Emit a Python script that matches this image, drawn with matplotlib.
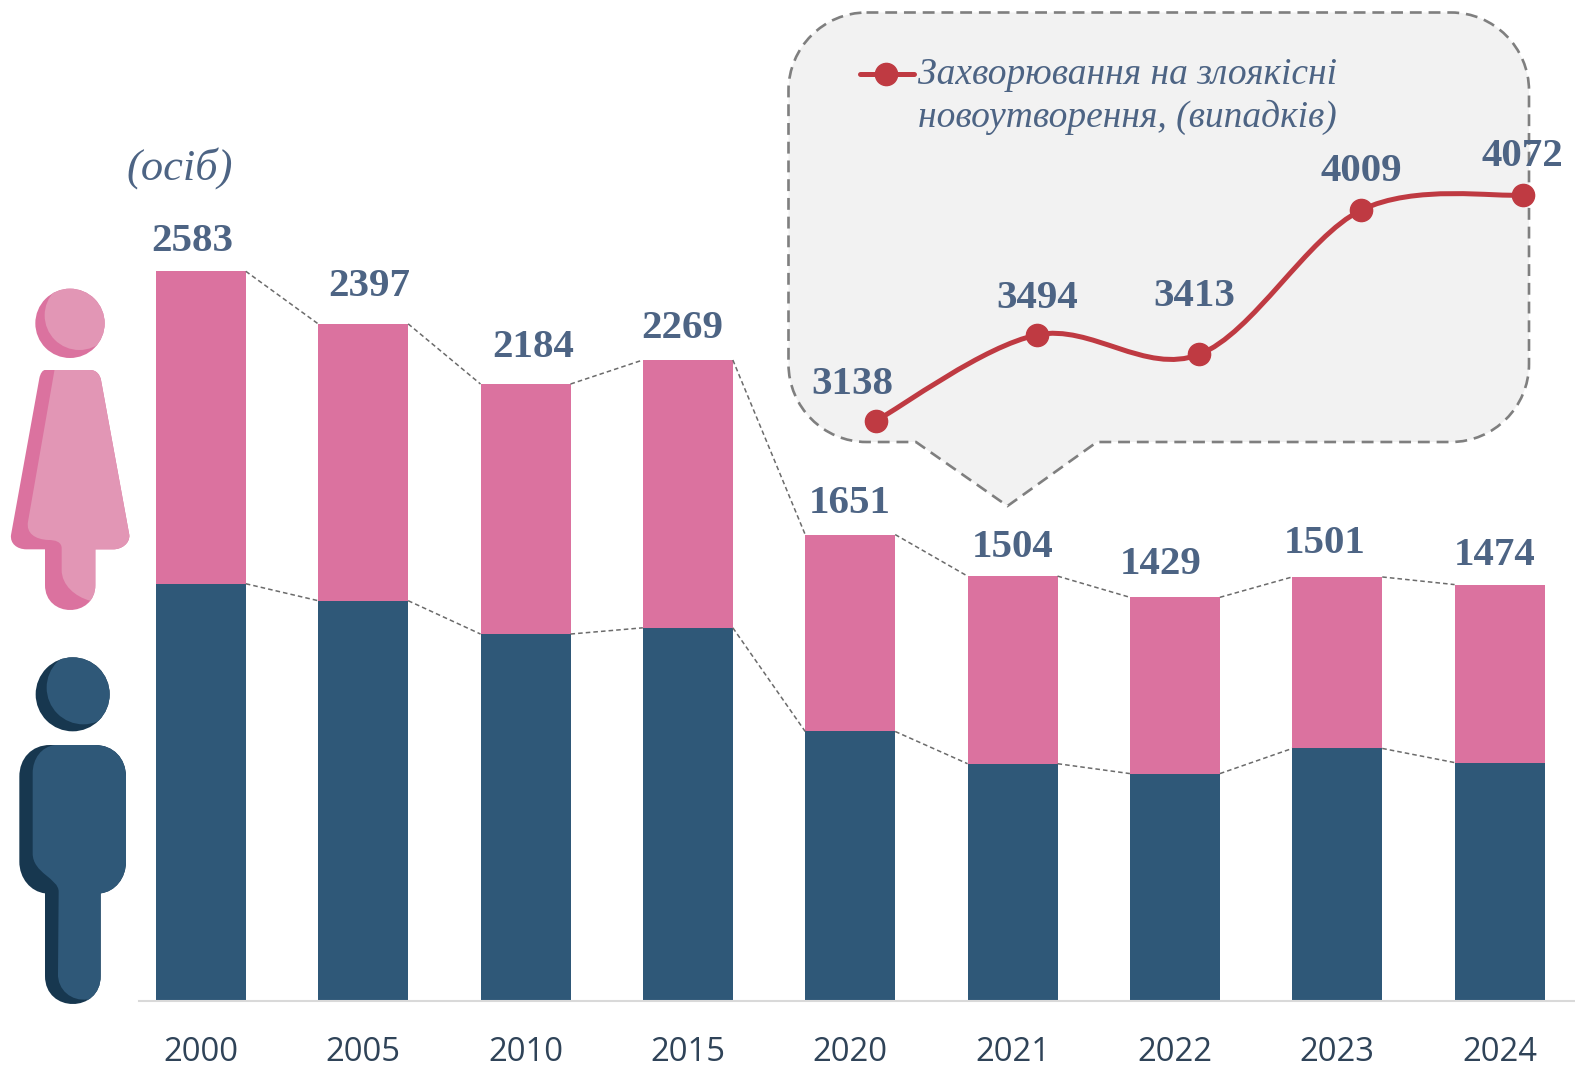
import matplotlib
matplotlib.use("Agg")
import matplotlib.pyplot as plt
import numpy as np
from matplotlib.patches import Circle, PathPatch
from matplotlib.path import Path

years = ["2000", "2005", "2010", "2015", "2020", "2021", "2022", "2023", "2024"]
totals = [2583, 2397, 2184, 2269, 1651, 1504, 1429, 1501, 1474]
men = [1477, 1417, 1299, 1321, 954, 840, 805, 894, 844]
women = [t - m for t, m in zip(totals, men)]

cancer_years = ["2020", "2021", "2022", "2023", "2024"]
cancer_cases = [3138, 3494, 3413, 4009, 4072]

PINK = "#db729f"
PINK_LIGHT = "#e296b5"
BLUE = "#2f5878"
BLUE_DARK = "#17374f"
TEXT = "#4d6484"
RED = "#bf3a42"
W, H = 1575, 1066
SERIF = "Liberation Serif"
BASE = 1001

fig = plt.figure(figsize=(W / 100, H / 100), dpi=100, facecolor="white")

# bars: axes span from the axis line start to the right edge
ax = fig.add_axes([139 / W, (H - BASE) / H, (W - 139) / W, BASE / H], zorder=1)
x = np.arange(len(years))
step, first = 162.35, 200.8
bar_w = 90 / step
ax.bar(x, men, bar_w, color=BLUE)
ax.bar(x, women, bar_w, bottom=men, color=PINK)
ax.set_xlim((139 - first) / step, (W - first) / step)
ax.set_ylim(0, BASE / 0.2825)
for s in ["top", "left", "right"]:
    ax.spines[s].set_visible(False)
ax.spines["bottom"].set_color("#d9d9d9")
ax.spines["bottom"].set_linewidth(1.5)
ax.set_yticks([])
ax.set_xticks(x, years, family="Open Sans", fontsize=23.6, color="#2f4358")
ax.tick_params(axis="x", length=0, pad=25)

# dashed series lines between neighbouring bars
for series in (totals, men):
    for i in range(len(x) - 1):
        ax.plot([x[i] + bar_w / 2, x[i + 1] - bar_w / 2], [series[i], series[i + 1]],
                color="#6b6b6b", lw=1.1, ls=(0, (3, 2)))

# hand placed labels, as in the original
label_dx = [-9, 6, 8, -6, 0, 0, -14, -13, -5]
label_dy = [30, 37, 37, 32, 31, 29, 33, 33, 29]
for i, t in enumerate(totals):
    ax.annotate(str(t), (x[i], t), xytext=(label_dx[i], label_dy[i]), textcoords="offset pixels",
                ha="center", va="center", family=SERIF, weight="bold", fontsize=29.5, color=TEXT,
                annotation_clip=False)

# pixel axes for the callout and the icons
deco = fig.add_axes([0, 0, 1, 1], zorder=2)
deco.set_xlim(0, W)
deco.set_ylim(H, 0)
deco.axis("off")
deco.patch.set_alpha(0)

deco.text(180, 168, "(осіб)", family=SERIF, style="italic", fontsize=32, color=TEXT,
          ha="center", va="center")


def rounded_box(l, r, t, b, rad, tail):
    k = rad * 0.45
    verts = [(l + rad, t), (r - rad, t), (r - k, t), (r, t + k), (r, t + rad),
             (r, b - rad), (r, b - k), (r - k, b), (r - rad, b)]
    codes = [Path.MOVETO, Path.LINETO, Path.CURVE4, Path.CURVE4, Path.CURVE4,
             Path.LINETO, Path.CURVE4, Path.CURVE4, Path.CURVE4]
    verts += [(tail[2], b), (tail[1], tail[3]), (tail[0], b), (l + rad, b),
              (l + k, b), (l, b - k), (l, b - rad), (l, t + rad), (l, t + k), (l + k, t), (l + rad, t)]
    codes += [Path.LINETO, Path.LINETO, Path.LINETO, Path.LINETO,
              Path.CURVE4, Path.CURVE4, Path.CURVE4, Path.LINETO, Path.CURVE4, Path.CURVE4, Path.CURVE4]
    return Path(verts, codes)


deco.add_patch(PathPatch(rounded_box(788.5, 1529, 12.5, 442, 78, (916, 1007.5, 1097, 506)),
                         facecolor="#f2f2f2", edgecolor="#7f7f7f", lw=1.9, ls=(0, (4.5, 2.6))))


def shape(pts, y0):
    # pts come from the 3x zoom of the icons: (x, y, code)
    verts = [(p[0] / 3, y0 + p[1] / 3) for p in pts]
    codes = [p[2] for p in pts]
    return Path(verts, codes)


M, L, C = Path.MOVETO, Path.LINETO, Path.CURVE4


def icon(head, head_light, body, light, y0, dark_col, light_col):
    c = Circle((head[0] / 3, y0 + head[1] / 3), head[2] / 3, fc=dark_col, ec="none")
    deco.add_patch(c)
    hl = Circle((head_light[0] / 3, y0 + head_light[1] / 3), head_light[2] / 3, fc=light_col, ec="none")
    deco.add_patch(hl)
    hl.set_clip_path(c)
    b = PathPatch(shape(body, y0), fc=dark_col, ec="none")
    deco.add_patch(b)
    lt = PathPatch(shape(light, y0), fc=light_col, ec="none")
    deco.add_patch(lt)
    lt.set_clip_path(b)


woman_body = [(135, 720, M), (270, 720, L), (290, 720, C), (300, 735, C), (303, 750, C),
              (388, 1215, L), (390, 1240, C), (365, 1258, C), (340, 1258, C),
              (286, 1258, L), (286, 1365, L), (286, 1465, C), (135, 1465, C), (135, 1365, C),
              (135, 1258, L), (80, 1258, L), (50, 1258, C), (30, 1240, C), (33, 1215, C),
              (118, 745, L), (121, 730, C), (128, 720, C), (135, 720, C)]
woman_light = [(167, 700, M), (400, 700, L), (400, 1480, L), (270, 1480, L), (270, 1412, L),
               (225, 1400, C), (185, 1365, C), (185, 1320, C), (185, 1255, L),
               (185, 1235, C), (165, 1230, C), (145, 1230, C), (105, 1228, C), (78, 1210, C),
               (84, 1175, C), (167, 700, L)]
icon((210, 580, 104), (238, 556, 104), woman_body, woman_light, 130, PINK, PINK_LIGHT)

man_body = [(150, 345, M), (285, 345, L), (340, 345, C), (378, 385, C), (378, 440, C),
            (378, 695, L), (378, 745, C), (345, 785, C), (302, 790, C),
            (302, 1038, L), (302, 1150, C), (135, 1150, C), (135, 1038, C),
            (135, 790, L), (92, 785, C), (58, 745, C), (58, 695, C),
            (58, 440, L), (58, 385, C), (95, 345, C), (150, 345, C)]
man_light = [(165, 335, M), (400, 335, L), (400, 1130, L), (262, 1130, L), (262, 1108, L),
             (215, 1115, C), (172, 1080, C), (174, 1030, C), (176, 785, L),
             (176, 745, C), (98, 730, C), (98, 670, C), (98, 430, L),
             (98, 385, C), (125, 350, C), (165, 345, C)]
icon((218, 193, 111), (250, 173, 110), man_body, man_light, 630, BLUE_DARK, BLUE)

# line panel: own axes over the whole figure, scaled so the points land inside the callout
ax2 = fig.add_axes([0, 0, 1, 1], zorder=3)
ax2.axis("off")
ax2.patch.set_alpha(0)
lx = np.arange(len(cancer_years))
ly = np.array(cancer_cases, dtype=float)
x0, dx = 875.5, 161.8
y_px0, scale = 421, (421 - 195) / (4072 - 3138)
ax2.set_xlim(-x0 / dx, (W - x0) / dx)
ax2.set_ylim(3138 - (H - y_px0) / scale, 3138 + y_px0 / scale)

# smoothed line, Catmull-Rom through the points like Excel's "smooth" option
pts = np.column_stack([lx, ly])
verts, codes = [pts[0]], [Path.MOVETO]
for i in range(len(pts) - 1):
    before = pts[max(i - 1, 0)]
    after = pts[min(i + 2, len(pts) - 1)]
    verts += [pts[i] + (pts[i + 1] - before) / 6, pts[i + 1] - (after - pts[i]) / 6, pts[i + 1]]
    codes += [Path.CURVE4] * 3
ax2.add_patch(PathPatch(Path(verts, codes), fill=False, edgecolor=RED, lw=3.6))
ax2.plot(lx, ly, ls="none", marker="o", ms=16, color=RED)

line_dx = [-23, 0, -5, 0, 0]
line_dy = [37, 36, 58, 39, 38]
for i, v in enumerate(cancer_cases):
    ax2.annotate(str(v), (lx[i], v), xytext=(line_dx[i], line_dy[i]), textcoords="offset pixels",
                 ha="center", va="center", family=SERIF, weight="bold", fontsize=29.5, color=TEXT,
                 annotation_clip=False)

# legend key + text
deco3 = fig.add_axes([0, 0, 1, 1], zorder=4)
deco3.set_xlim(0, W)
deco3.set_ylim(H, 0)
deco3.axis("off")
deco3.patch.set_alpha(0)
deco3.plot([860, 914], [74, 74], color=RED, lw=3.6, solid_capstyle="round")
deco3.plot([886], [74], marker="o", ms=16, color=RED)
deco3.text(918, 75, "Захворювання на злоякісні", family=SERIF, style="italic", fontsize=27,
           color=TEXT, ha="left", va="center")
deco3.text(918, 117, "новоутворення, (випадків)", family=SERIF, style="italic", fontsize=27,
           color=TEXT, ha="left", va="center")

fig.savefig("out.png", dpi=100)
